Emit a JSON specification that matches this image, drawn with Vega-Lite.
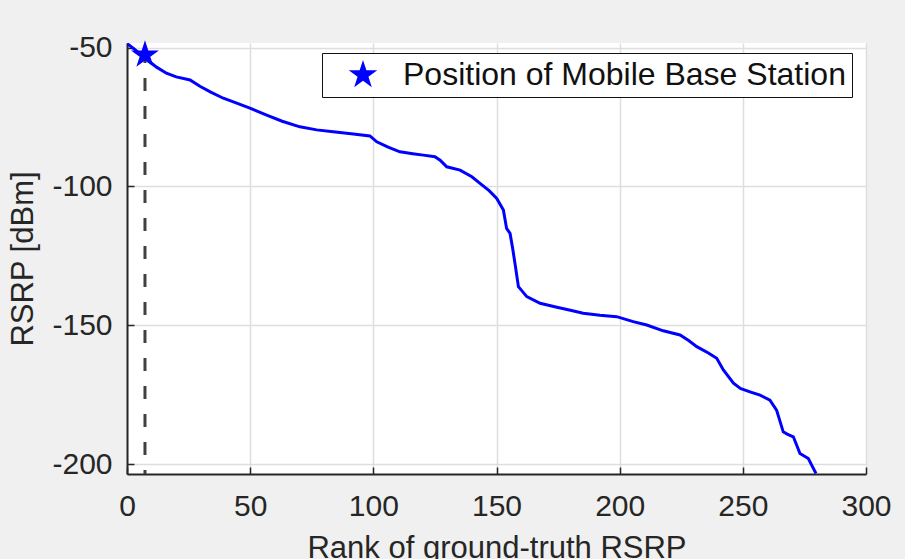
{
  "$schema": "https://vega.github.io/schema/vega-lite/v6.json",
  "autosize": {"type": "none"},
  "width": 739,
  "height": 431,
  "padding": {"left": 127, "top": 43, "right": 39, "bottom": 85},
  "background": "#f0f0f0",
  "datasets": {
    "curve": [
      {"rank": 0, "rsrp": -48.5}, {"rank": 3, "rsrp": -50.5}, {"rank": 7, "rsrp": -53.5},
      {"rank": 12, "rsrp": -57}, {"rank": 16, "rsrp": -59.2}, {"rank": 20, "rsrp": -60.5},
      {"rank": 25.6, "rsrp": -61.6}, {"rank": 29.6, "rsrp": -63.9}, {"rank": 34, "rsrp": -66},
      {"rank": 39.1, "rsrp": -68.2}, {"rank": 44, "rsrp": -69.8}, {"rank": 49.9, "rsrp": -71.8},
      {"rank": 56.7, "rsrp": -74.3}, {"rank": 63, "rsrp": -76.5}, {"rank": 70.2, "rsrp": -78.5},
      {"rank": 77, "rsrp": -79.6}, {"rank": 83.7, "rsrp": -80.3}, {"rank": 91, "rsrp": -81},
      {"rank": 98.6, "rsrp": -81.8}, {"rank": 101.4, "rsrp": -83.9}, {"rank": 106, "rsrp": -85.8},
      {"rank": 110.8, "rsrp": -87.5}, {"rank": 116, "rsrp": -88.2}, {"rank": 120.3, "rsrp": -88.7},
      {"rank": 125, "rsrp": -89.3}, {"rank": 127.1, "rsrp": -90.5}, {"rank": 129.8, "rsrp": -92.9},
      {"rank": 135.2, "rsrp": -94.1}, {"rank": 140, "rsrp": -96.5}, {"rank": 143.3, "rsrp": -98.9},
      {"rank": 147, "rsrp": -101.5}, {"rank": 150.1, "rsrp": -104.3}, {"rank": 152.8, "rsrp": -108.5},
      {"rank": 154.1, "rsrp": -115.1}, {"rank": 155.5, "rsrp": -116.9}, {"rank": 156.5, "rsrp": -122},
      {"rank": 157.5, "rsrp": -127.7}, {"rank": 158.9, "rsrp": -136.1}, {"rank": 162.3, "rsrp": -139.7},
      {"rank": 167.7, "rsrp": -142.1}, {"rank": 174.5, "rsrp": -143.5}, {"rank": 180, "rsrp": -144.6},
      {"rank": 185.2, "rsrp": -145.7}, {"rank": 192, "rsrp": -146.4}, {"rank": 198.8, "rsrp": -146.9},
      {"rank": 205.5, "rsrp": -148.7}, {"rank": 211, "rsrp": -149.9}, {"rank": 217.7, "rsrp": -152},
      {"rank": 224.5, "rsrp": -153.5}, {"rank": 228, "rsrp": -155.5}, {"rank": 231.3, "rsrp": -157.7},
      {"rank": 236, "rsrp": -160}, {"rank": 239.4, "rsrp": -161.9}, {"rank": 242.1, "rsrp": -166.1},
      {"rank": 246.2, "rsrp": -170.9}, {"rank": 249, "rsrp": -172.8}, {"rank": 252.9, "rsrp": -174},
      {"rank": 257, "rsrp": -175.2}, {"rank": 261, "rsrp": -177}, {"rank": 263.7, "rsrp": -180.6},
      {"rank": 266.4, "rsrp": -188.4}, {"rank": 268, "rsrp": -189.2}, {"rank": 270.5, "rsrp": -190.2},
      {"rank": 273.2, "rsrp": -196.2}, {"rank": 276.6, "rsrp": -198}, {"rank": 278, "rsrp": -200.5},
      {"rank": 279.7, "rsrp": -203.4}
    ],
    "station": [
      {"rank": 7.3, "rsrp": -52.6, "bottom": -203.6, "series": "Position of Mobile Base Station"}
    ]
  },
  "layer": [
    {
      "data": {"name": "curve"},
      "mark": {"type": "line", "color": "#0000ff", "strokeWidth": 3, "clip": true},
      "encoding": {
        "x": {
          "field": "rank", "type": "quantitative",
          "scale": {"domain": [0, 300], "nice": false, "zero": false},
          "axis": {"values": [0, 50, 100, 150, 200, 250, 300], "title": "Rank of ground-truth RSRP"}
        },
        "y": {
          "field": "rsrp", "type": "quantitative",
          "scale": {"domain": [-203.6, -48.3], "nice": false, "zero": false},
          "axis": {"values": [-50, -100, -150, -200], "title": "RSRP [dBm]", "labelExpr": "'' + datum.value"}
        }
      }
    },
    {
      "data": {"name": "station"},
      "mark": {"type": "rule", "color": "#404040", "strokeWidth": 3, "strokeDash": [13, 15], "strokeDashOffset": 5},
      "encoding": {
        "x": {"field": "rank", "type": "quantitative"},
        "y": {"field": "rsrp", "type": "quantitative"},
        "y2": {"field": "bottom"}
      }
    },
    {
      "data": {"name": "station"},
      "mark": {
        "type": "point", "filled": true, "size": 865, "opacity": 1, "strokeWidth": 0,
        "shape": "M0,-1L0.225,-0.309L0.951,-0.309L0.363,0.118L0.588,0.809L0,0.382L-0.588,0.809L-0.363,0.118L-0.951,-0.309L-0.225,-0.309Z"
      },
      "encoding": {
        "x": {"field": "rank", "type": "quantitative"},
        "y": {"field": "rsrp", "type": "quantitative"},
        "color": {
          "field": "series", "type": "nominal",
          "scale": {"range": ["#0000ff"]},
          "legend": {
            "title": null,
            "orient": "none",
            "legendX": 195,
            "legendY": 10,
            "fillColor": "white",
            "strokeColor": "#111111",
            "padding": 6,
            "symbolType": "M0,-1L0.225,-0.309L0.951,-0.309L0.363,0.118L0.588,0.809L0,0.382L-0.588,0.809L-0.363,0.118L-0.951,-0.309L-0.225,-0.309Z",
            "symbolSize": 900,
            "symbolOffset": 19,
            "symbolStrokeWidth": 0,
            "symbolFillColor": "#0000ff",
            "labelFont": "Liberation Sans",
            "labelFontSize": 32,
            "labelColor": "#111111",
            "labelOffset": 24,
            "labelLimit": 0
          }
        }
      }
    }
  ],
  "config": {
    "font": "Liberation Sans",
    "view": {"fill": "white", "stroke": null},
    "axis": {
      "labelFont": "Liberation Sans",
      "labelFontSize": 30,
      "labelColor": "#262626",
      "labelFlush": false,
      "titleFont": "Liberation Sans",
      "titleFontSize": 31,
      "titleFontWeight": "normal",
      "titleColor": "#262626",
      "domainColor": "#262626",
      "domainWidth": 2,
      "tickColor": "#262626",
      "tickWidth": 1.5,
      "tickSize": -7,
      "gridColor": "#dedede",
      "gridWidth": 1.5,
      "grid": true
    },
    "axisX": {"labelPadding": 24, "titlePadding": 12},
    "axisY": {"labelPadding": 22, "titlePadding": 12}
  }
}
